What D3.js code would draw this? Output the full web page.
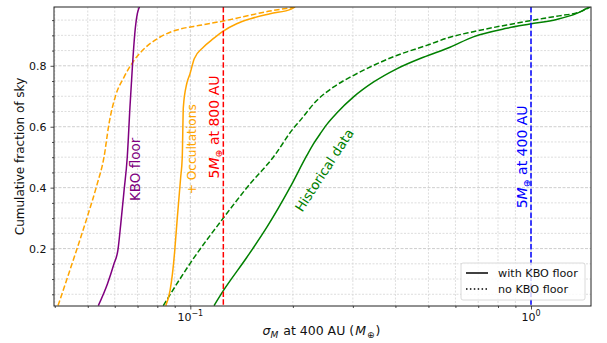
<!DOCTYPE html>
<html>
<head>
<meta charset="utf-8">
<script src="https://cdn.jsdelivr.net/npm/d3@7"></script>
<style>
  body { margin: 0; background: #fff; }
  svg text { font-family: "DejaVu Sans", sans-serif; }
</style>
</head>
<body>
<svg id="chart" width="607" height="343"></svg>
<script>
// Cumulative sky fraction vs. mass sensitivity (sigma_M at 400 AU)
const kboFloorX = [0.0537, 0.0571, 0.0597, 0.0613, 0.0625, 0.0639, 0.0653, 0.0665, 0.0676, 0.0687, 0.0699, 0.0709];
const kboFloorY = [0.0128, 0.0838, 0.150, 0.195, 0.281, 0.390, 0.500, 0.664, 0.796, 0.905, 0.971, 0.993];

const occNoFloorX = [0.0409, 0.0446, 0.0498, 0.0533, 0.0558, 0.0577, 0.0604, 0.0639, 0.0684, 0.0732, 0.0800, 0.0876, 0.0930, 0.1068, 0.125, 0.1497, 0.1714, 0.1962, 0.205];
const occNoFloorY = [0.0128, 0.1386, 0.3029, 0.4123, 0.500, 0.609, 0.703, 0.763, 0.818, 0.856, 0.889, 0.911, 0.920, 0.933, 0.947, 0.966, 0.980, 0.990, 0.993];

const occFloorX = [0.0847, 0.0872, 0.0886, 0.0900, 0.0916, 0.0937, 0.0947, 0.0954, 0.0976, 0.0998, 0.1027, 0.1092, 0.1168, 0.125, 0.1368, 0.1497, 0.1714, 0.1985, 0.202];
const occFloorY = [0.0128, 0.0621, 0.116, 0.193, 0.3025, 0.434, 0.500, 0.664, 0.741, 0.774, 0.823, 0.861, 0.889, 0.914, 0.938, 0.954, 0.971, 0.987, 0.993];

const histNoFloorX = [0.0833, 0.0998, 0.125, 0.1497, 0.1752, 0.2005, 0.2099, 0.2350, 0.2629, 0.3008, 0.3444, 0.4035, 0.4943, 0.5784, 0.6771, 0.8484, 0.9934, 1.190, 1.392, 1.473, 1.49];
const histNoFloorY = [0.0128, 0.1508, 0.3003, 0.4123, 0.500, 0.594, 0.620, 0.686, 0.730, 0.768, 0.801, 0.834, 0.867, 0.894, 0.912, 0.934, 0.948, 0.963, 0.977, 0.990, 0.993];

const histFloorX = [0.1174, 0.125, 0.1464, 0.1676, 0.1962, 0.2196, 0.2296, 0.2403, 0.2513, 0.2691, 0.3008, 0.3444, 0.4035, 0.4831, 0.5784, 0.6771, 0.8484, 0.9934, 1.190, 1.362, 1.457, 1.49];
const histFloorY = [0.0128, 0.0618, 0.1708, 0.2694, 0.4008, 0.505, 0.543, 0.576, 0.607, 0.645, 0.697, 0.746, 0.790, 0.828, 0.861, 0.895, 0.923, 0.937, 0.952, 0.972, 0.988, 0.993];

const refLineValues = [0.125, 1.0];
const refLineColors = ["red", "blue"];
const refLineLabels = ["at 800 AU", "at 400 AU"];

const yTickValues = [0.2, 0.4, 0.6, 0.8];
const xTickValues = [0.1, 1];
const xTickExponents = ["\u22121", "0"];
const legendLabels = ["with KBO floor", "no KBO floor"];

const xDomain = [0.0398, 1.5];
const yDomain = [0.0115, 0.993];

const margin = { left: 54, right: 16, top: 7, bottom: 37 };
const W = 607, H = 343;
const iw = W - margin.left - margin.right;
const ih = H - margin.top - margin.bottom;

const svg = d3.select("#chart");
const g = svg.append("g").attr("transform", `translate(${margin.left},${margin.top})`);

const x = d3.scaleLog().domain(xDomain).range([0, iw]);
const y = d3.scaleLinear().domain(yDomain).range([ih, 0]);

// minor/major tick positions
const xMinor = [];
for (let dec = 0.01; dec <= 1; dec *= 10) {
  for (let k = 2; k <= 9; k++) {
    const v = +(k * dec).toPrecision(3);
    if (v >= xDomain[0] && v <= xDomain[1]) xMinor.push(v);
  }
}
const yMinor = d3.range(0.05, 1.0, 0.05).map(v => +v.toFixed(2)).filter(v => v >= yDomain[0] && v <= yDomain[1] && !yTickValues.includes(v));

// grid
const grid = g.append("g");
grid.selectAll(".gxm").data(xMinor).enter().append("line")
  .attr("x1", d => x(d)).attr("x2", d => x(d)).attr("y1", 0).attr("y2", ih)
  .attr("stroke", "#d4d4d4").attr("stroke-width", 0.8).attr("stroke-dasharray", "2,1.5");
grid.selectAll(".gym").data(yMinor).enter().append("line")
  .attr("y1", d => y(d)).attr("y2", d => y(d)).attr("x1", 0).attr("x2", iw)
  .attr("stroke", "#d4d4d4").attr("stroke-width", 0.8).attr("stroke-dasharray", "2,1.5");
grid.selectAll(".gxM").data(xTickValues).enter().append("line")
  .attr("x1", d => x(d)).attr("x2", d => x(d)).attr("y1", 0).attr("y2", ih)
  .attr("stroke", "#c8c8c8").attr("stroke-width", 0.9).attr("stroke-dasharray", "3,1.5");
grid.selectAll(".gyM").data(yTickValues).enter().append("line")
  .attr("y1", d => y(d)).attr("y2", d => y(d)).attr("x1", 0).attr("x2", iw)
  .attr("stroke", "#c8c8c8").attr("stroke-width", 0.9).attr("stroke-dasharray", "3,1.5");

// curves
svg.append("defs").append("clipPath").attr("id", "plotclip")
  .append("rect").attr("width", iw).attr("height", ih);
const plot = g.append("g").attr("clip-path", "url(#plotclip)");

const line = d3.line().x(d => x(d[0])).y(d => y(d[1])).curve(d3.curveMonotoneX);
const zip = (a, b) => a.map((v, i) => [v, b[i]]);

const series = [
  { xs: histFloorX, ys: histFloorY, color: "green", dash: null },
  { xs: histNoFloorX, ys: histNoFloorY, color: "green", dash: "5.5,2.4" },
  { xs: occFloorX, ys: occFloorY, color: "orange", dash: null },
  { xs: occNoFloorX, ys: occNoFloorY, color: "orange", dash: "5.5,2.4" },
  { xs: kboFloorX, ys: kboFloorY, color: "purple", dash: null }
];
series.forEach(s => {
  plot.append("path").datum(zip(s.xs, s.ys))
    .attr("d", line).attr("fill", "none")
    .attr("stroke", s.color).attr("stroke-width", 1.5)
    .attr("stroke-dasharray", s.dash);
});

// reference lines
refLineValues.forEach((v, i) => {
  plot.append("line")
    .attr("x1", x(v)).attr("x2", x(v)).attr("y1", 0).attr("y2", ih)
    .attr("stroke", refLineColors[i]).attr("stroke-width", 1.5)
    .attr("stroke-dasharray", "5.5,2.4");
});

// axes frame
g.append("rect").attr("width", iw).attr("height", ih)
  .attr("fill", "none").attr("stroke", "#222").attr("stroke-width", 1);

// ticks
const xAxis = d3.axisBottom(x).tickValues(xTickValues).tickSize(3.5).tickFormat("");
const xAxisMinor = d3.axisBottom(x).tickValues(xMinor).tickSize(2).tickFormat("");
const yAxis = d3.axisLeft(y).tickValues(yTickValues).tickSize(3.5).tickFormat(d3.format(".1f"));
const yAxisMinor = d3.axisLeft(y).tickValues(yMinor).tickSize(2).tickFormat("");

function styleAxis(sel) {
  sel.select(".domain").remove();
  sel.selectAll("line").attr("stroke", "#222").attr("stroke-width", 0.8);
  sel.selectAll("text").attr("font-size", 11).attr("fill", "#111")
    .attr("font-family", "DejaVu Sans, sans-serif");
}
g.append("g").attr("transform", `translate(0,${ih})`).call(xAxis).call(styleAxis);
g.append("g").attr("transform", `translate(0,${ih})`).call(xAxisMinor).call(styleAxis);
g.append("g").call(yAxis).call(styleAxis).selectAll("text").attr("dx", "-1");
g.append("g").call(yAxisMinor).call(styleAxis);

// x tick labels as powers of ten
xTickValues.forEach((v, i) => {
  const t = g.append("text").attr("x", x(v)).attr("y", ih + 15)
    .attr("text-anchor", "middle").attr("font-size", 11).attr("fill", "#111");
  t.append("tspan").text("10");
  t.append("tspan").attr("font-size", 8).attr("dy", -5).text(xTickExponents[i]);
});

// axis titles
const xl = svg.append("text").attr("x", margin.left + iw / 2 - 1).attr("y", 335)
  .attr("text-anchor", "middle").attr("font-size", 12.5).attr("fill", "#111");
xl.append("tspan").attr("font-style", "italic").text("\u03c3");
xl.append("tspan").attr("font-style", "italic").attr("font-size", 9).attr("dy", 3).text("M");
xl.append("tspan").attr("dy", -3).attr("dx", 1).text(" at 400 AU (");
xl.append("tspan").attr("font-style", "italic").attr("dx", 1).text("M");
xl.append("tspan").attr("font-size", 9).attr("dy", 3).attr("dx", 1).text("\u2295");
xl.append("tspan").attr("dy", -3).attr("dx", 1).text(")");

svg.append("text")
  .attr("transform", `translate(24,${margin.top + ih / 2}) rotate(-90)`)
  .attr("text-anchor", "middle").attr("font-size", 12).attr("fill", "#111")
  .text("Cumulative fraction of sky");

// in-plot annotations
function vlabel(px, py, txt, color, size) {
  return g.append("text")
    .attr("transform", `translate(${px},${py}) rotate(-90)`)
    .attr("text-anchor", "middle").attr("font-size", size).attr("fill", color).text(txt);
}
vlabel(x(0.0672) + 8.5, y(0.46), "KBO floor", "purple", 13.5);
vlabel(x(0.1) + 5.5, y(0.526), "+ Occultations", "orange", 12.2);

refLineValues.forEach((v, i) => {
  const py = i === 0 ? y(0.599) : y(0.501);
  const t = g.append("text")
    .attr("transform", `translate(${x(v) - 4},${py}) rotate(-90)`)
    .attr("text-anchor", "middle").attr("font-size", 14).attr("fill", refLineColors[i]);
  t.append("tspan").text("5");
  t.append("tspan").attr("font-style", "italic").text("M");
  t.append("tspan").attr("font-size", 9.5).attr("dy", 3).text("\u2295");
  t.append("tspan").attr("dy", -3).text(" " + refLineLabels[i]);
});

g.append("text")
  .attr("transform", `translate(${x(0.254)},${y(0.449)}) rotate(-57)`)
  .attr("text-anchor", "middle").attr("font-size", 13.2).attr("fill", "green")
  .text("Historical data");

// legend
const lg = g.append("g").attr("transform", `translate(${iw - 130},${ih - 43})`);
lg.append("rect").attr("width", 124).attr("height", 37).attr("rx", 2)
  .attr("fill", "white").attr("fill-opacity", 0.8).attr("stroke", "#d0d0d0").attr("stroke-width", 0.8);
legendLabels.forEach((lab, i) => {
  const yy = 10 + i * 16;
  lg.append("line").attr("x1", 5).attr("x2", 27).attr("y1", yy).attr("y2", yy)
    .attr("stroke", "#000").attr("stroke-width", 1.5)
    .attr("stroke-dasharray", i === 0 ? null : "1.5,2.4");
  lg.append("text").attr("x", 37).attr("y", yy + 4).attr("font-size", 11.2).attr("fill", "#111").text(lab);
});
</script>
</body>
</html>
